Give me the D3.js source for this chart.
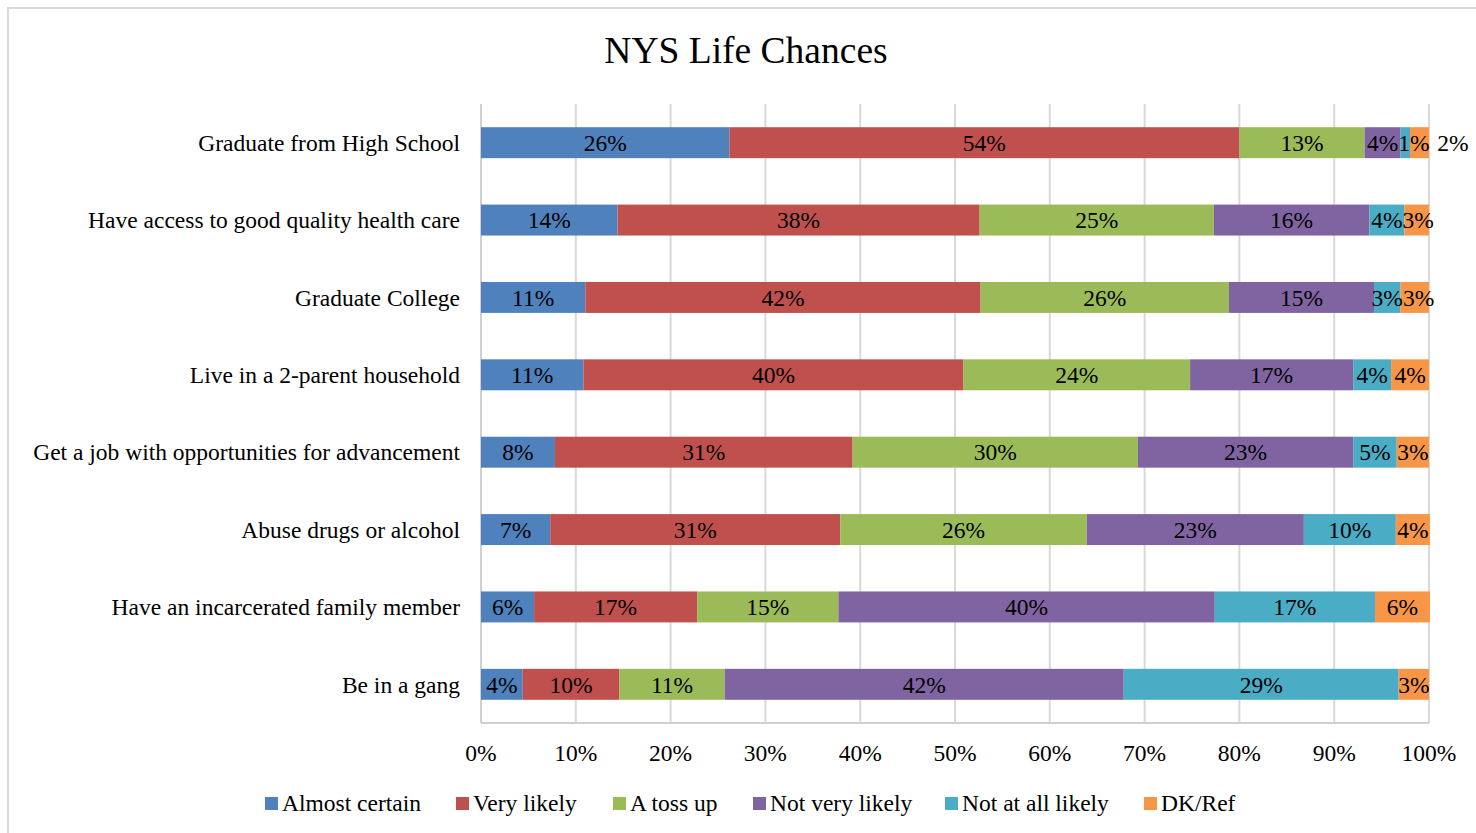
<!DOCTYPE html>
<html>
<head>
<meta charset="utf-8">
<script src="https://cdn.jsdelivr.net/npm/d3@7"></script>
<style>
  body { margin: 0; background: #fff; }
  svg text { font-family: "Liberation Serif", "Times New Roman", serif; fill: #000; }
</style>
</head>
<body>
<script>
// categories top to bottom
const categories = [
  'Graduate from High School',
  'Have access to good quality health care',
  'Graduate College',
  'Live in a 2-parent household',
  'Get a job with opportunities for advancement',
  'Abuse drugs or alcohol',
  'Have an incarcerated family member',
  'Be in a gang'
];
const seriesNames = ['Almost certain', 'Very likely', 'A toss up', 'Not very likely', 'Not at all likely', 'DK/Ref'];
const colors = ['#4F81BD', '#C0504D', '#9BBB59', '#8064A2', '#4BACC6', '#F79646'];

// percentages per series, in category order
const almostCertain  = [26.2, 14.4, 11.0, 10.8, 7.8, 7.3, 5.6, 4.4];
const veryLikely     = [53.8, 38.2, 41.7, 40.1, 31.4, 30.6, 17.2, 10.2];
const tossUp         = [13.2, 24.7, 26.2, 23.9, 30.1, 26.0, 14.9, 11.1];
const notVeryLikely  = [3.8, 16.4, 15.3, 17.2, 22.7, 22.9, 39.7, 42.1];
const notAtAllLikely = [1.0, 3.7, 2.8, 4.0, 4.6, 9.7, 16.9, 29.0];
const dkRef          = [2.0, 2.6, 3.0, 4.0, 3.4, 3.6, 5.8, 3.2];
const xTicks = [0, 10, 20, 30, 40, 50, 60, 70, 80, 90, 100];

const seriesValues = [almostCertain, veryLikely, tossUp, notVeryLikely, notAtAllLikely, dkRef];

const W = 1476, H = 833;
const margin = { top: 104, right: 48, bottom: 110, left: 481 };
const width = 1429 - margin.left;
const height = 723 - margin.top;
const fs = '23.5px';

const svg = d3.select('body').append('svg')
  .attr('width', W)
  .attr('height', H);

// outer chart frame
svg.append('rect')
  .attr('x', 8).attr('y', 8)
  .attr('width', W).attr('height', H)
  .attr('fill', 'none')
  .attr('stroke', '#d9d9d9')
  .attr('stroke-width', 2);

svg.append('text')
  .attr('x', 746).attr('y', 63)
  .attr('text-anchor', 'middle')
  .style('font-size', '37.5px')
  .text('NYS Life Chances');

const g = svg.append('g')
  .attr('transform', 'translate(' + margin.left + ',' + margin.top + ')');

const x = d3.scaleLinear().domain([0, 100]).range([0, width]);
const y = d3.scaleBand().domain(categories).range([0, height]).paddingInner(0.6).paddingOuter(0.3);

// gridlines
g.selectAll('.grid')
  .data(xTicks)
  .enter().append('line')
  .attr('x1', d => x(d)).attr('x2', d => x(d))
  .attr('y1', 0).attr('y2', height)
  .attr('stroke', '#d9d9d9')
  .attr('stroke-width', 2);

// axis lines
g.append('line')
  .attr('x1', 0).attr('x2', width)
  .attr('y1', height).attr('y2', height)
  .attr('stroke', '#d0d0d0').attr('stroke-width', 2);
g.append('line')
  .attr('x1', 0).attr('x2', 0)
  .attr('y1', 0).attr('y2', height)
  .attr('stroke', '#d0d0d0').attr('stroke-width', 2);

// stack data
const table = categories.map((c, i) => {
  const row = { category: c };
  seriesNames.forEach((s, j) => { row[s] = seriesValues[j][i]; });
  return row;
});
const stacked = d3.stack().keys(seriesNames)(table);

const layers = g.selectAll('.layer')
  .data(stacked)
  .enter().append('g')
  .attr('fill', (d, i) => colors[i]);

layers.selectAll('rect')
  .data(d => d)
  .enter().append('rect')
  .attr('x', d => x(d[0]))
  .attr('y', d => y(d.data.category))
  .attr('width', d => x(d[1]) - x(d[0]))
  .attr('height', y.bandwidth());

// value labels, row by row, pushing a label right if it runs into the one before
categories.forEach((cat, i) => {
  let prevRight = -Infinity;
  stacked.forEach((layer, j) => {
    const d = layer[i];
    const v = d[1] - d[0];
    let cx = (x(d[0]) + x(d[1])) / 2;
    if (i === 0 && j === 5) cx = x(d[1]) + 24;   // last tiny label sits outside the bar
    const t = g.append('text')
      .attr('y', y(cat) + y.bandwidth() / 2)
      .attr('dy', '0.35em')
      .attr('text-anchor', 'middle')
      .style('font-size', fs)
      .text(Math.round(v) + '%');
    const w = t.node().getComputedTextLength();
    if (cx - w / 2 < prevRight) cx = prevRight + w / 2;
    t.attr('x', cx);
    prevRight = cx + w / 2;
  });
});

// category labels
g.selectAll('.cat')
  .data(categories)
  .enter().append('text')
  .attr('x', -21)
  .attr('y', d => y(d) + y.bandwidth() / 2)
  .attr('dy', '0.35em')
  .attr('text-anchor', 'end')
  .style('font-size', fs)
  .text(d => d);

// x tick labels
g.selectAll('.tick-label')
  .data(xTicks)
  .enter().append('text')
  .attr('x', d => x(d))
  .attr('y', height + 38)
  .attr('text-anchor', 'middle')
  .style('font-size', fs)
  .text(d => d + '%');

// legend
const legendX = [265, 456, 613, 753, 945, 1144];
const legend = svg.selectAll('.legend')
  .data(seriesNames)
  .enter().append('g')
  .attr('transform', (d, i) => 'translate(' + legendX[i] + ',803)');
legend.append('rect')
  .attr('x', 0).attr('y', -6)
  .attr('width', 13).attr('height', 13)
  .attr('fill', (d, i) => colors[i]);
legend.append('text')
  .attr('x', 17).attr('y', 0)
  .attr('dy', '0.35em')
  .style('font-size', fs)
  .text(d => d);
</script>
</body>
</html>
